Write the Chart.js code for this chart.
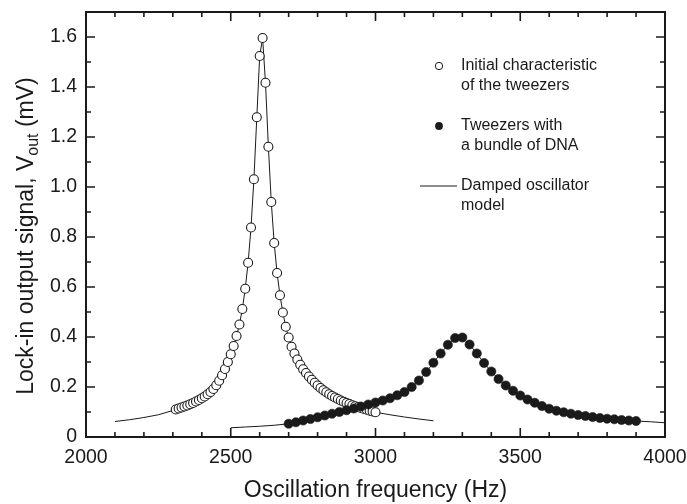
<!DOCTYPE html>
<html><head><meta charset="utf-8">
<script src="https://cdn.jsdelivr.net/npm/chart.js@4.4.1/dist/chart.umd.min.js"></script>
<style>html,body{margin:0;padding:0;background:#fff}canvas{display:block}</style>
</head><body>
<canvas id="c" width="687" height="504"></canvas>
<script>
// ---- data ----
const initialFreq = [2310,2320,2330,2340,2350,2360,2370,2380,2390,2400,2410,2420,2430,2440,2450,2460,2470,2480,2490,2500,
  2510,2520,2530,2540,2550,2560,2570,2580,2590,2600,2610,2620,2630,2640,2650,2660,2670,2680,2690,2700,
  2710,2720,2730,2740,2750,2760,2770,2780,2790,2800,2810,2820,2830,2840,2850,2860,2870,2880,2890,2900,
  2910,2920,2930,2940,2950,2960,2970,2980,2990,3000];
const initialSignal = [0.110,0.114,0.118,0.122,0.126,0.131,0.136,0.142,0.148,0.155,0.162,0.171,0.180,0.192,0.207,0.225,0.247,0.272,0.300,0.331,
  0.364,0.404,0.450,0.512,0.593,0.697,0.838,1.031,1.279,1.524,1.596,1.417,1.161,0.940,0.776,0.656,0.567,0.498,0.441,0.398,
  0.361,0.334,0.310,0.289,0.271,0.256,0.242,0.229,0.217,0.206,0.196,0.187,0.179,0.171,0.164,0.158,0.152,0.146,0.141,0.136,
  0.132,0.127,0.123,0.119,0.116,0.112,0.109,0.105,0.102,0.099];
const dnaFreq = [2700,2725,2750,2775,2800,2825,2850,2875,2900,2925,2950,2975,3000,3025,3050,3075,3100,3125,3150,3175,
  3200,3225,3250,3275,3300,3325,3350,3375,3400,3425,3450,3475,3500,3525,3550,3575,3600,3625,3650,3675,
  3700,3725,3750,3775,3800,3825,3850,3875,3900];
const dnaSignal = [0.053,0.059,0.066,0.072,0.079,0.086,0.093,0.100,0.107,0.114,0.122,0.130,0.138,0.146,0.155,0.167,0.180,0.200,0.226,0.260,
  0.297,0.334,0.369,0.396,0.398,0.370,0.334,0.296,0.262,0.232,0.206,0.185,0.166,0.150,0.137,0.124,0.113,0.105,0.099,0.093,
  0.088,0.084,0.080,0.076,0.073,0.071,0.068,0.066,0.064];
// damped-oscillator model curves outside the measured ranges
const modelInitialLowFreq = [2100,2150,2200,2250,2300];
const modelInitialLow = [0.062,0.069,0.078,0.089,0.106];
const modelInitialHighFreq = [3050,3100,3150,3200];
const modelInitialHigh = [0.089,0.080,0.072,0.065];
const modelDnaLowFreq = [2500,2550,2600,2650];
const modelDnaLow = [0.037,0.040,0.043,0.047];
const modelDnaHighFreq = [3950,4000];
const modelDnaHigh = [0.061,0.057];
// axes
const xTickValues = [2000,2500,3000,3500,4000];
const yTickValues = [0,0.2,0.4,0.6,0.8,1.0,1.2,1.4,1.6];
const xTitle = 'Oscillation frequency (Hz)';
const yTitleParts = ['Lock-in output signal, V', 'out', ' (mV)'];
const legendEntries = [
  ['Initial characteristic', 'of the tweezers'],
  ['Tweezers with', 'a bundle of DNA'],
  ['Damped oscillator', 'model']
];

const pts = (xs, ys) => xs.map((v, i) => ({x: v, y: ys[i]}));
const FONT = '"Liberation Sans", Arial, Helvetica, sans-serif';
const INK = '#1a1a1a';

const framePlugin = {
  id: 'frame',
  afterDatasetsDraw(chart) {
    const {ctx, chartArea: a, scales: {x, y}} = chart;
    ctx.save();
    ctx.strokeStyle = INK;
    ctx.lineWidth = 1.6;
    ctx.beginPath();
    for (let f = 2000; f <= 4000; f += 100) {
      const px = x.getPixelForValue(f);
      const L = (f % 500 === 0) ? 9 : 5;
      ctx.moveTo(px, a.bottom); ctx.lineTo(px, a.bottom - L);
      ctx.moveTo(px, a.top); ctx.lineTo(px, a.top + L);
    }
    for (let i = 0; i <= 16; i++) {
      const py = y.getPixelForValue(i / 10);
      const L = (i % 2 === 0) ? 9 : 5;
      ctx.moveTo(a.left, py); ctx.lineTo(a.left + L, py);
      ctx.moveTo(a.right, py); ctx.lineTo(a.right - L, py);
    }
    ctx.stroke();
    ctx.lineWidth = 2;
    ctx.strokeRect(a.left, a.top, a.right - a.left, a.bottom - a.top);
    ctx.restore();
  },
  afterDraw(chart) {
    const {ctx, chartArea: a} = chart;
    ctx.save();
    ctx.fillStyle = INK;
    // x title
    ctx.font = '23px ' + FONT;
    ctx.textAlign = 'center';
    ctx.textBaseline = 'middle';
    ctx.fillText(xTitle, (a.left + a.right) / 2, 491);
    // y title with subscript
    ctx.translate(33, 236);
    ctx.rotate(-Math.PI / 2);
    ctx.textAlign = 'left';
    ctx.textBaseline = 'alphabetic';
    const big = '23px ' + FONT, small = '16px ' + FONT;
    ctx.font = big; const w0 = ctx.measureText(yTitleParts[0]).width;
    ctx.font = small; const w1 = ctx.measureText(yTitleParts[1]).width;
    ctx.font = big; const w2 = ctx.measureText(yTitleParts[2]).width;
    let sx = -(w0 + w1 + w2) / 2;
    ctx.font = big; ctx.fillText(yTitleParts[0], sx, 0); sx += w0;
    ctx.font = small; ctx.fillText(yTitleParts[1], sx, 5); sx += w1;
    ctx.font = big; ctx.fillText(yTitleParts[2], sx, 0);
    ctx.restore();

    // legend
    ctx.save();
    const tx = 461, rows = [66, 126, 186], lh = 20;
    ctx.font = '16px ' + FONT;
    ctx.fillStyle = INK;
    ctx.textAlign = 'left';
    ctx.textBaseline = 'middle';
    legendEntries.forEach((lines, k) => {
      lines.forEach((t, j) => ctx.fillText(t, tx, rows[k] + j * lh));
    });
    ctx.lineWidth = 1;
    ctx.strokeStyle = INK;
    ctx.beginPath(); ctx.arc(439, rows[0], 3.7, 0, Math.PI * 2);
    ctx.fillStyle = '#fff'; ctx.fill(); ctx.stroke();
    ctx.beginPath(); ctx.arc(439, rows[1], 3.9, 0, Math.PI * 2);
    ctx.fillStyle = INK; ctx.fill();
    ctx.beginPath(); ctx.moveTo(420, rows[2]); ctx.lineTo(457, rows[2]); ctx.stroke();
    ctx.restore();
  }
};

new Chart(document.getElementById('c'), {
  type: 'scatter',
  data: {
    datasets: [
      { label: 'Tweezers with a bundle of DNA', data: pts(dnaFreq, dnaSignal), order: 1,
        pointRadius: 4.6, pointBackgroundColor: INK, pointBorderColor: INK, pointBorderWidth: 0.6, showLine: false },
      { label: 'Initial characteristic of the tweezers', data: pts(initialFreq, initialSignal), order: 2,
        pointRadius: 4.5, pointBackgroundColor: '#fff', pointBorderColor: INK, pointBorderWidth: 1.1, showLine: false },
      { label: 'Damped oscillator model', order: 3,
        data: pts(modelInitialLowFreq.concat(initialFreq, modelInitialHighFreq), modelInitialLow.concat(initialSignal, modelInitialHigh)),
        showLine: true, borderColor: INK, borderWidth: 1, pointRadius: 0, tension: 0 },
      { label: 'Damped oscillator model (DNA)', order: 4,
        data: pts(modelDnaLowFreq.concat(dnaFreq, modelDnaHighFreq), modelDnaLow.concat(dnaSignal, modelDnaHigh)),
        showLine: true, borderColor: INK, borderWidth: 1, pointRadius: 0, tension: 0 }
    ]
  },
  options: {
    responsive: false,
    animation: false,
    events: [],
    layout: { padding: { left: 0, right: 22, top: 12, bottom: 0 } },
    plugins: { legend: { display: false }, tooltip: { enabled: false } },
    scales: {
      x: {
        type: 'linear', min: 2000, max: 4000,
        afterBuildTicks: s => { s.ticks = xTickValues.map(v => ({value: v})); },
        afterFit: s => { s.height = 67; s.paddingLeft = 0; s.paddingRight = 0; },
        grid: { display: false, drawTicks: false },
        border: { display: false },
        ticks: { padding: 9, color: INK, font: { family: FONT, size: 19.5 }, callback: v => String(v) }
      },
      y: {
        type: 'linear', min: 0, max: 1.7,
        afterBuildTicks: s => { s.ticks = yTickValues.map(v => ({value: v})); },
        afterFit: s => { s.width = 86; s.paddingTop = 0; s.paddingBottom = 0; },
        grid: { display: false, drawTicks: false },
        border: { display: false },
        ticks: { padding: 9, color: INK, font: { family: FONT, size: 19.5 }, callback: v => v === 0 ? '0' : v.toFixed(1) }
      }
    }
  },
  plugins: [framePlugin]
});
</script>
</body></html>
